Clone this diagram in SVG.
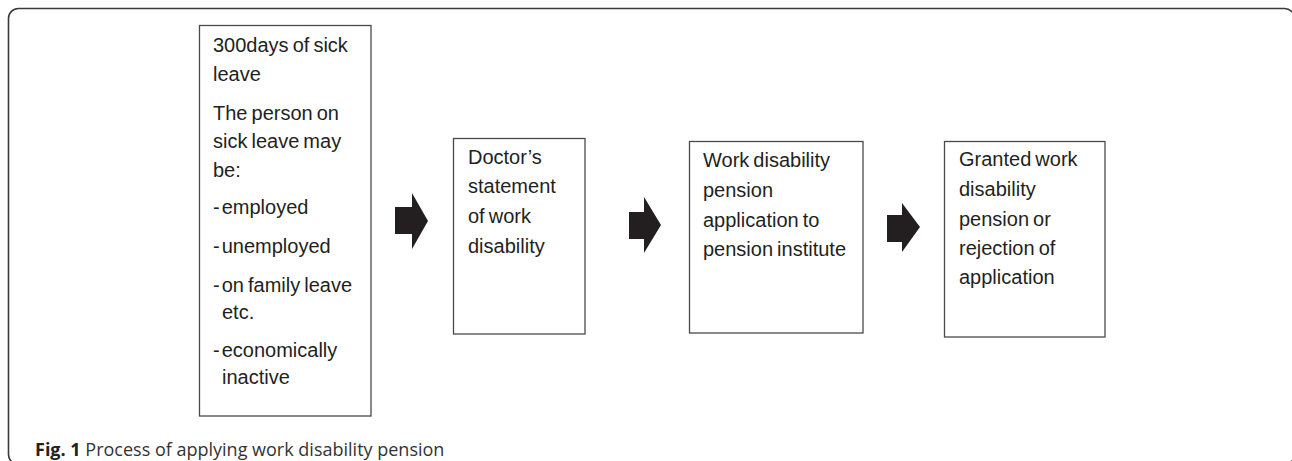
<svg xmlns="http://www.w3.org/2000/svg" width="1292" height="461" viewBox="0 0 1292 461">
  <style>
    .frame { fill: none; stroke: #3a3a3a; stroke-width: 1.6; }
    .box { fill: #ffffff; stroke: #4a4a4a; stroke-width: 1.3; }
    .lbl { font-family: "Liberation Sans", Arial, sans-serif; font-size: 20px; fill: #231f20; word-spacing: -1.5px; }
    .arrow { fill: #231f20; }
    .cap { font-family: "Open Sans", "Noto Sans", sans-serif; font-size: 18px; fill: #333333; }
    .capb { font-weight: bold; fill: #222222; }
  </style>
  <rect width="1292" height="461" fill="#ffffff"/>
  <rect class="frame" x="8.5" y="8.5" width="1286" height="456" rx="10" ry="10"/>

  <g id="node-sick-leave">
    <rect class="box" x="199.5" y="25.5" width="171.5" height="390.5"/>
    <text class="lbl" x="213" y="52">300days of sick</text>
    <text class="lbl" x="213" y="81">leave</text>
    <text class="lbl" x="213" y="120">The person on</text>
    <text class="lbl" x="213" y="148">sick leave may</text>
    <text class="lbl" x="213" y="177">be:</text>
    <text class="lbl" x="213" y="214">-<tspan dx="2">employed</tspan></text>
    <text class="lbl" x="213" y="253">-<tspan dx="2">unemployed</tspan></text>
    <text class="lbl" x="213" y="292">-<tspan dx="2">on family leave</tspan></text>
    <text class="lbl" x="222" y="319">etc.</text>
    <text class="lbl" x="213" y="357">-<tspan dx="2">economically</tspan></text>
    <text class="lbl" x="222" y="384">inactive</text>
  </g>

  <g id="node-doctor-statement">
    <rect class="box" x="453.5" y="138.5" width="131.5" height="195.5"/>
    <text class="lbl" x="468" y="164">Doctor’s</text>
    <text class="lbl" x="468" y="193">statement</text>
    <text class="lbl" x="468" y="223">of work</text>
    <text class="lbl" x="468" y="253">disability</text>
  </g>

  <g id="node-pension-application">
    <rect class="box" x="689.5" y="141.5" width="173.5" height="191.5"/>
    <text class="lbl" x="703" y="167">Work disability</text>
    <text class="lbl" x="703" y="197">pension</text>
    <text class="lbl" x="703" y="227">application to</text>
    <text class="lbl" x="703" y="256">pension institute</text>
  </g>

  <g id="node-decision">
    <rect class="box" x="944.5" y="141.5" width="160.5" height="195.5"/>
    <text class="lbl" x="959" y="166">Granted work</text>
    <text class="lbl" x="959" y="196">disability</text>
    <text class="lbl" x="959" y="226">pension or</text>
    <text class="lbl" x="959" y="255">rejection of</text>
    <text class="lbl" x="959" y="284">application</text>
  </g>

  <g id="connectors">
    <polygon class="arrow" points="395,207 412,207 412,193 428,221 412,249 412,234 395,234"/>
    <polygon class="arrow" points="629,212 644,212 644,197 661,225 644,253 644,239 629,239"/>
    <polygon class="arrow" points="887,215 902,215 902,203 920,227 902,252 902,242 887,242"/>
  </g>

  <g id="caption">
    <text class="cap" x="35" y="456"><tspan class="capb">Fig. 1</tspan> Process of applying work disability pension</text>
  </g>
</svg>
